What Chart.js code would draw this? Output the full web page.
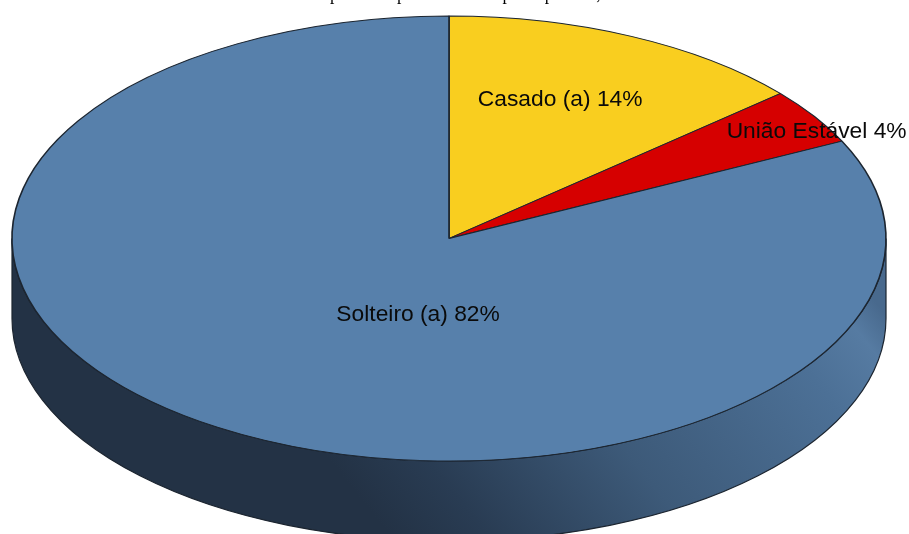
<html lang="pt"><head>
  <meta charset="UTF-8">
  <title>Estado civil</title>
  <script src="https://cdn.jsdelivr.net/npm/chart.js"></script>
  <style>
    body { margin: 0; background: #fff; overflow: hidden; }
    canvas { display: block; }
  </style>
</head>
<body>
  <canvas id="pie" width="909" height="534"></canvas>
  <script>
    const categories = ['Casado (a)', 'União Estável', 'Solteiro (a)'];
    const shares = [13.7, 4.1, 82.2];
    const percentLabels = ['14%', '4%', '82%'];
    const colors = ['#f9ce1f', '#d60000', '#5780ab'];
    const captionTail = 'parte das pessoas com o perfil pessoal,'; // only the descenders show, the page cuts the rest

    // look of the tilted disc
    const cx = 449, cy = 238.5, rx = 437, ry = 222.5, depth = 80;
    // labels sit away from the slice centres, in px
    const labelShift = [[20, -38], [185, -46], [85, -18]];

    const tiltPlugin = {
      id: 'tilt',
      beforeDatasetsDraw(chart) {
        const ctx = chart.ctx;
        const arc = chart.getDatasetMeta(0).data[0];

        // side wall first
        const wall = ctx.createLinearGradient(230, 520, 730, 120);
        wall.addColorStop(0.18, '#233245');
        wall.addColorStop(0.3, '#293c53');
        wall.addColorStop(0.55, '#3d5a79');
        wall.addColorStop(0.85, '#4c7096');
        wall.addColorStop(0.95, '#567ba2');
        wall.addColorStop(1, '#48698d');
        ctx.save();
        ctx.beginPath();
        ctx.ellipse(cx, cy + depth, rx, ry, 0, 0, Math.PI);
        ctx.lineTo(cx - rx, cy);
        ctx.ellipse(cx, cy, rx, ry, 0, Math.PI, 0, true);
        ctx.closePath();
        ctx.fillStyle = wall;
        ctx.fill();
        ctx.strokeStyle = '#1c2530';
        ctx.lineWidth = 1.2;
        ctx.stroke();
        ctx.restore();

        // squash the pie the library draws onto the ellipse
        ctx.save();
        ctx.translate(cx, cy);
        ctx.scale(rx / arc.outerRadius, ry / arc.outerRadius);
        ctx.translate(-arc.x, -arc.y);
      },
      afterDatasetsDraw(chart) {
        const ctx = chart.ctx;
        ctx.restore();

        const arcs = chart.getDatasetMeta(0).data;
        ctx.save();
        ctx.font = '22.8px "Liberation Sans"';
        ctx.fillStyle = '#0a0a0a';
        ctx.textAlign = 'center';
        ctx.textBaseline = 'middle';
        arcs.forEach((arc, i) => {
          const c = arc.getCenterPoint();
          const x = cx + (c.x - arc.x) * rx / arc.outerRadius + labelShift[i][0];
          const y = cy + (c.y - arc.y) * ry / arc.outerRadius + labelShift[i][1];
          ctx.fillText(categories[i] + ' ' + percentLabels[i], x, y);
        });

        // caption line, cut by the top of the page
        ctx.font = '17.5px "Liberation Serif"';
        ctx.fillStyle = '#000';
        ctx.textAlign = 'left';
        ctx.textBaseline = 'alphabetic';
        ctx.fillText(captionTail, 330, 0);
        ctx.restore();
      }
    };

    new Chart(document.getElementById('pie').getContext('2d'), {
      type: 'pie',
      data: {
        labels: categories,
        datasets: [{
          data: shares,
          backgroundColor: colors,
          borderColor: '#1c2530',
          borderWidth: 1
        }]
      },
      options: {
        responsive: false,
        animation: false,
        plugins: { legend: { display: false }, tooltip: { enabled: false } }
      },
      plugins: [tiltPlugin]
    });
  </script>
</body></html>
